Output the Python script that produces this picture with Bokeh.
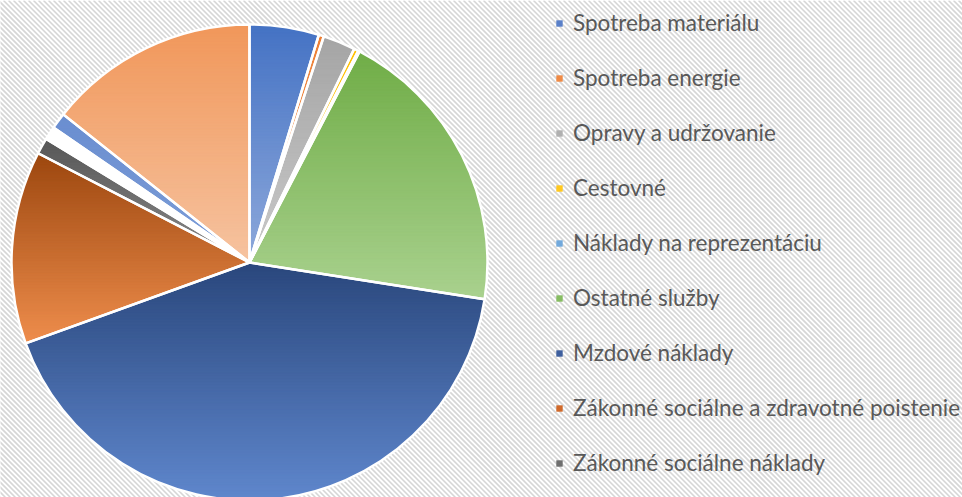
import numpy as np
from bokeh.plotting import figure
from bokeh.models import Range1d, Legend, LegendItem
from bokeh.embed import file_html
from bokeh.resources import INLINE

# ---- data (percent shares, clockwise from 12 o'clock) ----
categories = [
    "Spotreba materiálu",
    "Spotreba energie",
    "Opravy a udržovanie",
    "Cestovné",
    "Náklady na reprezentáciu",
    "Ostatné služby",
    "Mzdové náklady",
    "Zákonné sociálne a zdravotné poistenie",
    "Zákonné sociálne náklady",
]
values = [4.7, 0.35, 2.2, 0.3, 0.1, 19.8, 42.0, 13.1, 1.1]
# further slices whose legend entries are cut off in the original
extra_values = [0.9, 1.1, 14.3]

# ---- style ----
top_colors = ["#4472C4", "#ED7D31", "#A5A5A5", "#FFC000", "#5B9BD5", "#70AD47",
              "#2A477C", "#9C470F", "#575757", "#FFFFFF", "#6A8ED0", "#F1975A"]
bottom_colors = ["#8EA9DB", "#F4B183", "#C9C9C9", "#FFD966", "#9DC3E6", "#A9D18E",
                 "#5F87CD", "#EE8D4C", "#8A8A8A", "#FFFFFF", "#7E9ED8", "#F6C3A0"]
legend_colors = ["#5A80C9", "#EF8A45", "#B0B0B0", "#FFC81F", "#72A9DC", "#86BC62",
                 "#3E5F9E", "#D0692A", "#6E6E6E"]

W, H = 962, 497
R_PX = 238.0
CX, CY = 249.0, 262.0  # pixel position of pie centre (from top-left)
STRIPE_PX = 5.0        # horizontal period of the background stripes

all_vals = np.array(values + extra_values, dtype=float)
fr = all_vals / all_vals.sum()
cum = np.concatenate([[0], np.cumsum(fr)])


def hex2rgb(h):
    h = h.lstrip("#")
    return np.array([int(h[i:i + 2], 16) for i in (0, 2, 4)], dtype=float)


def rgb2hex(c):
    c = np.clip(np.round(c), 0, 255).astype(int)
    return "#%02x%02x%02x" % tuple(c)


def clip(poly, y0, keep_above):
    out = []
    n = len(poly)
    for i in range(n):
        cur = poly[i]
        prev = poly[i - 1]
        cin = cur[1] >= y0 if keep_above else cur[1] <= y0
        pin = prev[1] >= y0 if keep_above else prev[1] <= y0
        if cin != pin:
            t = (y0 - prev[1]) / (cur[1] - prev[1])
            out.append((prev[0] + t * (cur[0] - prev[0]), y0))
        if cin:
            out.append(cur)
    return out


xr = Range1d(-CX / R_PX, (W - CX) / R_PX)
yr = Range1d(-(H - CY) / R_PX, CY / R_PX)
p = figure(width=W, height=H, output_backend="svg", toolbar_location=None,
           x_axis_location=None, y_axis_location=None, min_border=0,
           x_range=xr, y_range=yr)
p.grid.visible = False
p.outline_line_color = None
p.background_fill_color = "white"
p.border_fill_color = "white"

# striped chart-area background ("\" direction)
span = yr.end - yr.start
starts = np.arange(xr.start - span, xr.end + 0.05, STRIPE_PX / R_PX)
p.segment(x0=starts, y0=np.full(len(starts), yr.end),
          x1=starts + span, y1=np.full(len(starts), yr.start),
          line_color="#D6D6D6", line_width=1.6)

xs_all, ys_all, cols = [], [], []
eps = 0.6 / R_PX
for i in range(len(fr)):
    a0 = np.pi / 2 - 2 * np.pi * cum[i]
    a1 = np.pi / 2 - 2 * np.pi * cum[i + 1]
    n = max(3, int(abs(a1 - a0) * 180 / np.pi * 2))
    ang = np.linspace(a0, a1, n)
    poly = [(0.0, 0.0)] + [(np.cos(a), np.sin(a)) for a in ang]
    ymin = min(q[1] for q in poly)
    ymax = max(q[1] for q in poly)
    nb = max(1, int((ymax - ymin) * R_PX / 3))
    ct, cb = hex2rgb(top_colors[i]), hex2rgb(bottom_colors[i])
    edges = np.linspace(ymax, ymin, nb + 1)
    for b in range(nb):
        yt, yb = edges[b] + eps, edges[b + 1] - eps
        sub = clip(poly, yb, True)
        if len(sub) < 3:
            continue
        sub = clip(sub, yt, False)
        if len(sub) < 3:
            continue
        t = ((ymax - (edges[b] + edges[b + 1]) / 2) / (ymax - ymin)) if ymax > ymin else 0
        c = rgb2hex(ct + (cb - ct) * t)
        xs_all.append([q[0] for q in sub])
        ys_all.append([q[1] for q in sub])
        cols.append(c)

p.patches(xs_all, ys_all, fill_color=cols, line_color=cols, line_width=0.6)

start = np.pi / 2 - 2 * np.pi * cum[:-1]
end = np.pi / 2 - 2 * np.pi * cum[1:]
p.wedge(x=0, y=0, radius=1, start_angle=start, end_angle=end, direction="clock",
        fill_alpha=0, line_color="white", line_width=2.5)

items = []
for name, col in zip(categories, legend_colors):
    r = p.quad(left=[np.nan], right=[np.nan], top=[np.nan], bottom=[np.nan],
               fill_color=col, line_alpha=0)
    items.append(LegendItem(label=name, renderers=[r]))

legend = Legend(items=items, location=(555, 21), orientation="vertical",
                glyph_width=8, glyph_height=8, label_height=27, spacing=28,
                label_standoff=10, padding=0, margin=0,
                border_line_alpha=0, background_fill_alpha=0,
                label_text_font="Lato", label_text_font_size="22.5px",
                label_text_color="#595959")
p.add_layout(legend, "center")

open("out.html", "w").write(file_html(p, INLINE))
